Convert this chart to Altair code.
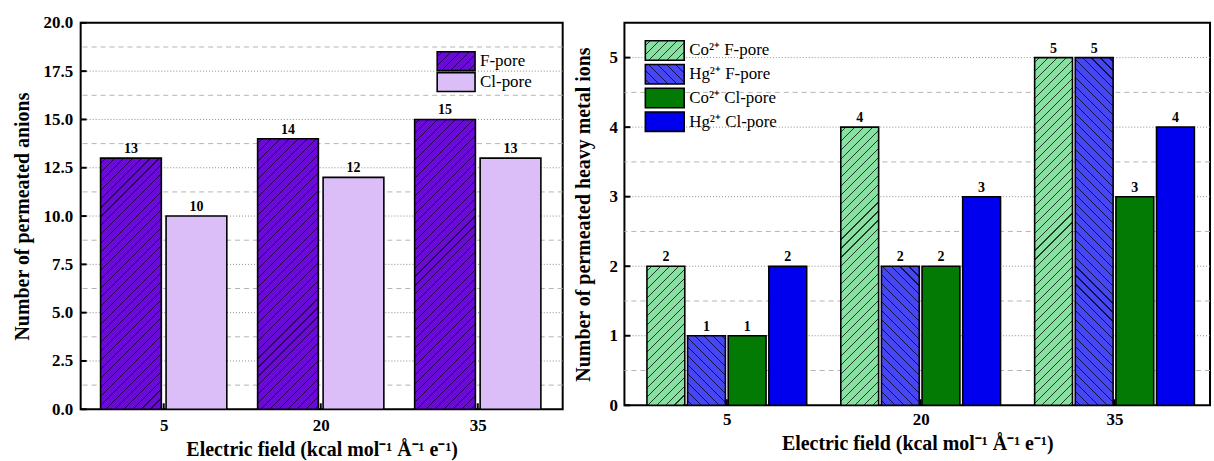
import json

import altair as alt
import pandas as pd

# ---- data -------------------------------------------------------------
fields = ["5", "20", "35"]

anion_series = ["F-pore", "Cl-pore"]
f_pore = [13, 14, 15]
cl_pore = [10, 12, 13]

metal_series = ["Co²⁺ F-pore", "Hg²⁺ F-pore", "Co²⁺ Cl-pore", "Hg²⁺ Cl-pore"]
co_f_pore = [2, 4, 5]
hg_f_pore = [1, 2, 5]
co_cl_pore = [1, 2, 3]
hg_cl_pore = [2, 3, 4]

left_major = [2.5, 5.0, 7.5, 10.0, 12.5, 15.0, 17.5]
left_minor = [1.25, 3.75, 6.25, 8.75, 11.25, 13.75, 16.25, 18.75]
left_ticks = [0, 2.5, 5.0, 7.5, 10.0, 12.5, 15.0, 17.5, 20.0]

right_major = [1, 2, 3, 4, 5]
right_minor = [0.5, 1.5, 2.5, 3.5, 4.5]
right_ticks = [0, 1, 2, 3, 4, 5]

FONT = "Liberation Serif"
XTITLE = "Electric field (kcal mol⁻¹ Å⁻¹ e⁻¹)"


def hatch(base, line, w, h, back=False, period=9.0, lw=1.1):
    """Linear gradient that looks like 45-degree hatching on a w x h box."""
    denom = w * w + h * h
    c = max(1.0, w * (w + h) / denom)
    k = w / (c * denom)
    smax = w + h
    stops = [{"offset": 0, "color": base}]
    s = period / 2
    while s + lw < smax:
        a, b = round(s * k, 6), round((s + lw) * k, 6)
        stops += [
            {"offset": a, "color": base},
            {"offset": a, "color": line},
            {"offset": b, "color": line},
            {"offset": b, "color": base},
        ]
        s += period
    stops.append({"offset": 1, "color": base})
    g = {"gradient": "linear", "stops": stops}
    if back:
        g.update(x1=0, y1=1, x2=c, y2=1 - c * h / w)
    else:
        g.update(x1=0, y1=0, x2=c, y2=c * h / w)
    return g


def panel(series, values, styles, W, H, xdomain, bar_step, bar_w, ymax,
          major, minor, ticks, yfmt, ytitle, leg_range, leg_pi, leg_x, leg_w, leg_h,
          ytitle_pad, ylabel_pad, xlabel_pad, xtitle_pad):
    rows = []
    for k, (name, vals) in enumerate(zip(series, values)):
        for g, (f, v) in enumerate(zip(fields, vals)):
            rows.append({"field": f, "g": g, "series": name, "k": k, "value": v})
    df = pd.DataFrame(rows)
    n = len(series)

    # per-bar fills (hatched series get a gradient sized to the bar)
    conds = []
    for r in rows:
        base, line, kind = styles[r["k"]]
        h = r["value"] / ymax * H
        fill = base if kind is None else hatch(base, line, bar_w, h, back=(kind == "back"))
        conds.append({"test": f"datum.k === {r['k']} && datum.value === {r['value']}",
                      "value": fill})
    bar_fill = {"value": "white", "condition": conds}

    leg_conds = []
    for k, (base, line, kind) in enumerate(styles):
        fill = base if kind is None else hatch(base, line, leg_w, leg_h, back=(kind == "back"))
        leg_conds.append({"test": f"datum.k === {k}", "value": fill})
    leg_fill = {"value": "white", "condition": leg_conds}

    yaxis = alt.Axis(values=ticks, format=yfmt, grid=False, ticks=False, domain=False,
                     title=ytitle, titlePadding=ytitle_pad, labelPadding=ylabel_pad)
    yscale = alt.Scale(domain=[0, ymax], nice=False, zero=True)
    xaxis = alt.Axis(title=XTITLE, values=list(range(len(fields))),
                     labelExpr=f"{json.dumps(fields)}[datum.value]",
                     labelAngle=0, ticks=False, domain=False, grid=False,
                     labelPadding=xlabel_pad, titlePadding=xtitle_pad)
    xscale = alt.Scale(domain=xdomain, nice=False, zero=False)

    def unit(data):
        return alt.Chart(data).properties(width=W, height=H)

    def Y():
        return alt.Y("value:Q", scale=yscale, axis=yaxis)

    def X(field="pos"):
        return alt.X(f"{field}:Q", scale=xscale, axis=xaxis)

    # bar centre: group index plus the series' slot within the group
    pos_expr = f"datum.g + (datum.k - {(n - 1) / 2}) * {bar_step}"

    minor_grid = unit(pd.DataFrame({"value": minor})).mark_rule(
        color="#b4b4b4", strokeWidth=1, strokeDash=[5, 4]).encode(y=Y())
    major_grid = unit(pd.DataFrame({"value": major})).mark_rule(
        color="#8c8c8c", strokeWidth=1, strokeDash=[1, 2]).encode(y=Y())

    bars = unit(df).transform_calculate(pos=pos_expr).mark_bar(
        orient="vertical", width=bar_w, stroke="black", strokeWidth=1.6
    ).encode(x=X(), y=Y(), fill=bar_fill)

    labels = unit(df).transform_calculate(pos=pos_expr).mark_text(
        baseline="bottom", dy=-2, font=FONT, fontSize=14, fontWeight="bold", color="black"
    ).encode(x=X(), y=Y(), text="value:Q")

    ytick = unit(pd.DataFrame({"value": ticks})).mark_rule(
        color="black", strokeWidth=2).encode(y=Y(), x=alt.value(0), x2=alt.value(6))
    xtick = unit(pd.DataFrame({"g": list(range(len(fields)))})).mark_rule(
        color="black", strokeWidth=2).encode(x=X("g"), y=alt.value(H), y2=alt.value(H - 6))

    main = alt.layer(minor_grid, major_grid, bars, labels, ytick, xtick)

    leg_df = pd.DataFrame({"series": series, "k": list(range(n))})
    leg_y = alt.Y("series:N", sort=series, axis=None,
                  scale=alt.Scale(domain=series, range=leg_range,
                                  paddingInner=leg_pi, paddingOuter=0))
    leg_rect = unit(leg_df).mark_rect(stroke="black", strokeWidth=1.6).encode(
        x=alt.value(leg_x), x2=alt.value(leg_x + leg_w), y=leg_y, fill=leg_fill)
    leg_text = unit(leg_df).mark_text(
        align="left", baseline="middle", font=FONT, fontSize=17, color="black"
    ).encode(x=alt.value(leg_x + leg_w + 5), y=leg_y, text="series:N")
    legend = alt.layer(leg_rect, leg_text)

    return alt.layer(main, legend).resolve_scale(y="independent").properties(
        width=W, height=H)


left = panel(
    anion_series, [f_pore, cl_pore],
    [("#6a0ad6", "#2a0058", "fwd"), ("#dbbdf8", None, None)],
    W=484, H=388, xdomain=[-0.497, 2.509], bar_step=0.417, bar_w=61,
    ymax=20, major=left_major, minor=left_minor, ticks=left_ticks,
    yfmt=".1f", ytitle="Number of permeated anions",
    leg_range=[29, 69], leg_pi=0.095, leg_x=358, leg_w=38, leg_h=19,
    ytitle_pad=11, ylabel_pad=8, xlabel_pad=8, xtitle_pad=6,
)

right = panel(
    metal_series, [co_f_pore, hg_f_pore, co_cl_pore, hg_cl_pore],
    [("#88e0a2", "#1f3a26", "fwd"), ("#4646f2", "#10104a", "back"),
     ("#037a03", None, None), ("#0000ee", None, None)],
    W=588, H=384, xdomain=[-0.5025, 2.467], bar_step=0.2096, bar_w=38,
    ymax=5.5, major=right_major, minor=right_minor, ticks=right_ticks,
    yfmt="d", ytitle="Number of permeated heavy metal ions",
    leg_range=[18, 109], leg_pi=0.18, leg_x=21, leg_w=39, leg_h=19.5,
    ytitle_pad=16, ylabel_pad=7, xlabel_pad=6, xtitle_pad=6,
)

chart = alt.hconcat(left, right, spacing=7).properties(
    padding={"left": 11, "top": 12, "right": 2, "bottom": 0}
).configure_view(
    stroke="black", strokeWidth=2
).configure_axis(
    labelFont=FONT, titleFont=FONT, labelFontSize=17, titleFontSize=20,
    labelFontWeight="bold", titleFontWeight="bold",
    labelColor="black", titleColor="black",
)

chart.save("out.html", embed_options={"renderer": "svg", "actions": False})
